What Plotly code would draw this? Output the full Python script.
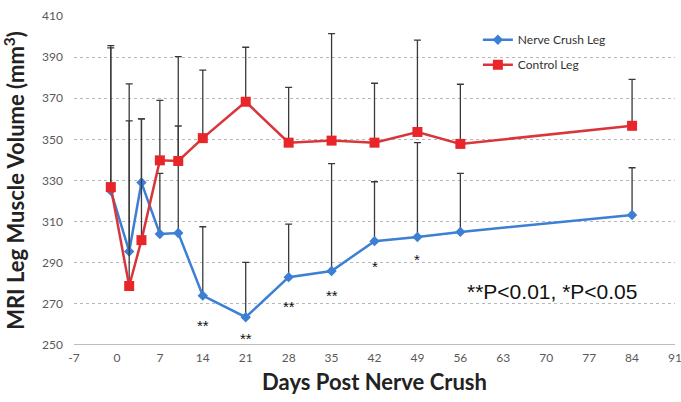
import plotly.graph_objects as go

days = [-1, 2, 4, 7, 10, 14, 21, 28, 35, 42, 49, 56, 84]
crush = [325, 295.5, 329, 304, 304.5, 274, 263.5, 283, 286, 300.5, 302.5, 305, 313.2]
crush_top = [394.5, 359, 360, 333.5, 356.5, 307.5, 290.2, 308.8, 338.2, 329.4, 348.4, 333.5, 336.2]
control = [326.8, 278.7, 301, 339.8, 339.5, 350.6, 368.3, 348.4, 349.4, 348.4, 353.6, 347.8, 356.6]
control_top = [395.6, 377, 360, 369, 390.2, 383.7, 394.8, 375.3, 401.4, 377.3, 398.3, 376.8, 379.2]

star_days = [14, 21, 28, 35, 42, 49]
star_y = [259.5, 253, 268.5, 274.3, 288.4, 291.8]
star_text = ["**", "**", "**", "**", "*", "*"]

x_ticks = list(range(-7, 92, 7))
y_ticks = list(range(250, 411, 20))

crush_err = [t - v for t, v in zip(crush_top, crush)]
control_err = [t - v for t, v in zip(control_top, control)]

fig = go.Figure()
fig.add_trace(go.Scatter(
    x=days, y=crush, mode="lines+markers", name="Nerve Crush Leg",
    legendgroup="a",
    line=dict(color="#3c7fd4", width=2.5),
    marker=dict(symbol="diamond", size=8, color="#3c7fd4"),
    error_y=dict(type="data", symmetric=False, array=crush_err,
                 arrayminus=[0] * len(days), color="#3a3a3a", thickness=1.3, width=3.5),
))
fig.add_trace(go.Scatter(
    x=days, y=control, mode="lines+markers", name="Control Leg",
    legendgroup="b",
    line=dict(color="#d9363a", width=2.5),
    marker=dict(symbol="square", size=10, color="#e8262a"),
    error_y=dict(type="data", symmetric=False, array=control_err,
                 arrayminus=[0] * len(days), color="#3a3a3a", thickness=1.3, width=3.5),
))

for d, yv, t in zip(star_days, star_y, star_text):
    fig.add_annotation(x=d, y=yv, text=t, showarrow=False,
                       font=dict(family="Liberation Sans", size=15, color="#111111"))

fig.add_annotation(x=71, y=275.8, text="**P<0.01, *P<0.05", showarrow=False,
                   font=dict(family="Liberation Sans", size=21, color="#111111"))

fig.update_layout(
    width=681, height=402,
    margin=dict(l=74, r=6, t=16, b=57),
    paper_bgcolor="white", plot_bgcolor="white",
    showlegend=True,
    legend=dict(x=0.672, y=0.972, xanchor="left", yanchor="top",
                traceorder="grouped", tracegroupgap=6,
                font=dict(family="Lato", size=12, color="#333333"),
                bgcolor="rgba(0,0,0,0)", itemwidth=30),
    xaxis=dict(range=[-7, 91], tickvals=x_ticks, ticktext=[str(v) for v in x_ticks],
               showgrid=False, zeroline=False, showline=False, automargin=False,
               ticklabelstandoff=4, ticklabeloverflow="allow",
               tickfont=dict(family="Lato", size=12, color="#595959"),
               title=dict(text="<b>Days Post Nerve Crush</b>",
                          font=dict(family="Lato", size=22, color="#222222"), standoff=10)),
    yaxis=dict(range=[250, 410], tickvals=y_ticks,
               showgrid=True, gridcolor="#b8b8b8", griddash="dot", gridwidth=1,
               zeroline=False, showline=False, automargin=False,
               ticklabelstandoff=10,
               tickfont=dict(family="Lato", size=12, color="#595959"),
               title=dict(text="<b>MRI Leg Muscle Volume (mm<sup>3</sup>)</b>",
                          font=dict(family="Lato", size=22, color="#222222"), standoff=14)),
)
fig.add_shape(type="line", xref="paper", yref="y", x0=0, x1=1, y0=250, y1=250,
              line=dict(color="#a6a6a6", width=1.5))

fig.write_html("out.html", config={"displayModeBar": False},
               post_script="document.body.style.margin='0';document.body.style.overflow='hidden';")
